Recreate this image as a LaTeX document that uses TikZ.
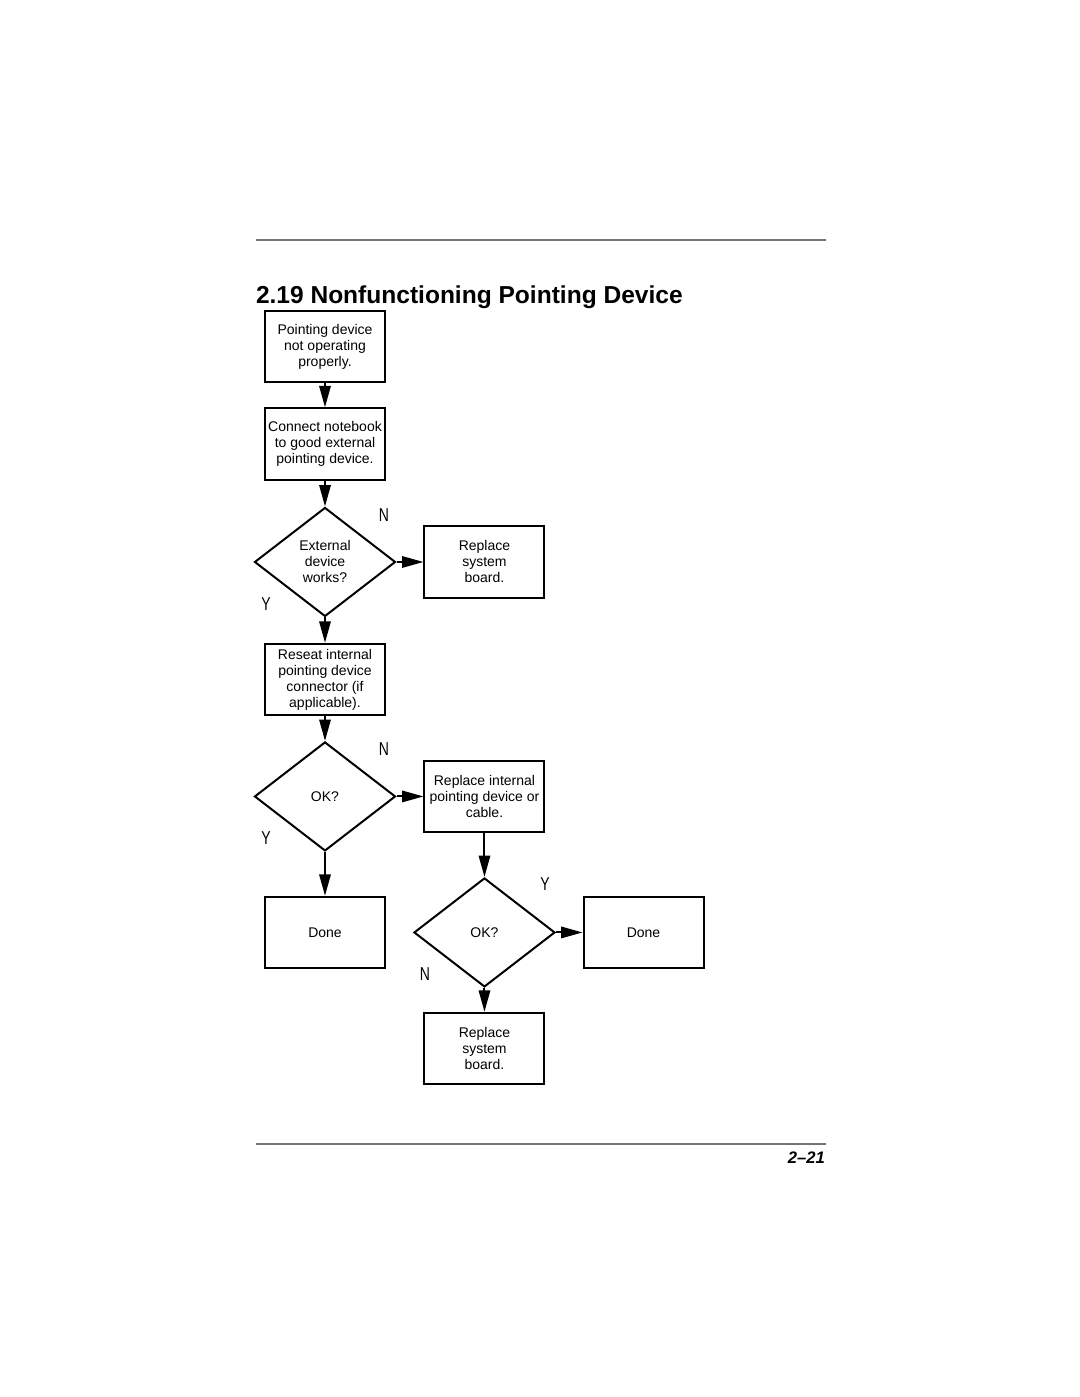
\documentclass[tikz,border=0pt]{standalone}
\usepackage{fontspec}
\setmainfont{Liberation Sans}
\usetikzlibrary{positioning,arrows.meta,shapes.geometric}

\begin{document}
\begin{tikzpicture}[x=0.75pt,y=-0.75pt,->,>={Triangle[length=16pt,width=8.5pt]},
  line width=1.5pt,
  font=\fontsize{10.5}{12}\selectfont,
  box/.style={rectangle,draw,-,align=center,inner sep=1pt,
    minimum width=90pt,minimum height=53.5pt},
  decision/.style={diamond,draw,-,align=center,inner sep=0pt,
    minimum width=105.75pt,minimum height=81.75pt},
  yn/.style={font=\fontsize{14}{14}\selectfont,xscale=0.75,transform shape,inner sep=0pt}]

  \useasboundingbox (0,0) rectangle (1080,1397);

  % page rules and heading
  \draw[-,black!55,line width=1pt] (256,240) -- (826,240);
  \draw[-,black!55,line width=1pt] (256,1144) -- (826,1144);
  \node[anchor=base west,inner sep=0pt,font=\fontsize{18.4}{20}\selectfont\bfseries] (title)
    at (255,303) {2.19 Nonfunctioning Pointing Device};
  \node[anchor=base east,inner sep=0pt,font=\fontsize{12.5}{14}\selectfont\bfseries\itshape] (page)
    at (826,1163) {2–21};

  \node[box] (start) at (325,346.5) {Pointing device\\not operating\\properly.};
  \node[box] (connect) [below of=start,node distance=73.1pt] {Connect notebook\\to good external\\pointing device.};
  \node[decision] (extok) [below of=connect,node distance=88.5pt] {External\\device\\works?};
  \node[box] (sysbd1) [right of=extok,node distance=119.6pt] {Replace\\system\\board.};
  \node[box] (reseat) [below of=extok,node distance=88.1pt] {Reseat internal\\pointing device\\connector (if\\applicable).};
  \node[decision] (ok1) [below of=reseat,node distance=87.75pt] {OK?};
  \node[box] (replint) [right of=ok1,node distance=119.6pt] {Replace internal\\pointing device or\\cable.};
  \node[box] (done1) [below of=ok1,node distance=102pt] {Done};
  \node[decision] (ok2) [below of=replint,node distance=102pt] {OK?};
  \node[box] (done2) [right of=ok2,node distance=119.3pt] {Done};
  \node[box] (sysbd2) [below of=ok2,node distance=87pt] {Replace\\system\\board.};

  % Y / N labels
  \node[yn] (n1) at (384,515) {N};
  \node[yn] (y1) at (266,604) {Y};
  \node[yn] (n2) at (384,749) {N};
  \node[yn] (y2) at (266,838) {Y};
  \node[yn] (y3) at (545,884) {Y};
  \node[yn] (n3) at (425,974) {N};

  \path
    (start) edge (connect)
    (connect) edge (extok)
    (extok) edge (sysbd1)
    (extok) edge (reseat)
    (reseat) edge (ok1)
    (ok1) edge (replint)
    (ok1) edge (done1)
    (replint) edge (ok2)
    (ok2) edge (done2)
    (ok2) edge (sysbd2);
\end{tikzpicture}
\end{document}
